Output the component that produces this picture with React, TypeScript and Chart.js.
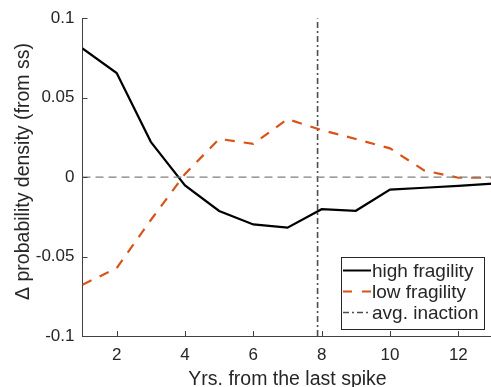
import { useEffect, useRef } from 'react';
import { Chart, registerables } from 'chart.js';

Chart.register(...registerables);

// ---- data ----
const xYears = [1, 2, 3, 4, 5, 6, 7, 8, 9, 10, 11, 12, 13];
const highFragility = [0.081, 0.0655, 0.0222, -0.0052, -0.0213, -0.0298, -0.0318, -0.0202, -0.0212, -0.0079, -0.0067, -0.0055, -0.0041];
const lowFragility = [-0.0677, -0.0573, -0.027, 0.002, 0.024, 0.0209, 0.0365, 0.0296, 0.024, 0.0181, 0.0042, -0.0004, -0.0004];
const avgInaction = 7.88;
const xTickValues = [2, 4, 6, 8, 10, 12];
const yTickValues = [-0.1, -0.05, 0, 0.05, 0.1];
const yTickLabels = ['-0.1', '-0.05', '0', '0.05', '0.1'];
const xLabel = 'Yrs. from the last spike';
const yLabel = 'Δ probability density (from ss)';
const legendLabels = ['high fragility', 'low fragility', 'avg. inaction'];

const FONT = '"Liberation Sans", Arial, Helvetica, sans-serif';
const TEXT = '#262626';
const AXIS = '#404040';
const ORANGE = '#D95319';
const VGRAY = '#4d4d4d';
const ZGRAY = '#808080';

const decorPlugin = {
  id: 'decor',
  afterDraw(chart: any) {
    const ctx = chart.ctx as CanvasRenderingContext2D;
    const xs = chart.scales.x;
    const ys = chart.scales.y;
    const area = chart.chartArea;
    ctx.save();
    // inward tick marks
    ctx.strokeStyle = AXIS;
    ctx.lineWidth = 1;
    ctx.beginPath();
    xTickValues.forEach((v) => {
      const px = Math.round(xs.getPixelForValue(v)) + 0.5;
      ctx.moveTo(px, area.bottom);
      ctx.lineTo(px, area.bottom - 5);
    });
    yTickValues.forEach((v) => {
      const py = Math.round(ys.getPixelForValue(v)) + 0.5;
      ctx.moveTo(area.left, py);
      ctx.lineTo(area.left + 5, py);
    });
    ctx.stroke();

    // axis titles
    ctx.fillStyle = TEXT;
    ctx.font = `19.5px ${FONT}`;
    ctx.textAlign = 'center';
    ctx.textBaseline = 'alphabetic';
    ctx.fillText(xLabel, (xs.getPixelForValue(xYears[0]) + xs.getPixelForValue(xYears[xYears.length - 1])) / 2, 385);
    ctx.save();
    ctx.translate(23.5, 171.5);
    ctx.rotate(-Math.PI / 2);
    ctx.textBaseline = 'middle';
    ctx.fillText(yLabel, 0, 0);
    ctx.restore();

    // legend
    const bx = 341.5, by = 257.5, bw = 143, bh = 72;
    ctx.fillStyle = '#ffffff';
    ctx.fillRect(bx, by, bw, bh);
    ctx.strokeStyle = TEXT;
    ctx.lineWidth = 1;
    ctx.strokeRect(bx, by, bw, bh);
    const rows = [270.5, 291.5, 312.5];
    const styles = [
      { color: '#000000', width: 2, dash: [] as number[] },
      { color: ORANGE, width: 2, dash: [9, 10] },
      { color: VGRAY, width: 1.3, dash: [6, 3, 2, 3] },
    ];
    ctx.font = `19px ${FONT}`;
    ctx.textAlign = 'left';
    ctx.textBaseline = 'middle';
    rows.forEach((ry, i) => {
      const s = styles[i];
      ctx.beginPath();
      ctx.strokeStyle = s.color;
      ctx.lineWidth = s.width;
      ctx.setLineDash(s.dash);
      ctx.moveTo(343, ry);
      ctx.lineTo(371, ry);
      ctx.stroke();
      ctx.setLineDash([]);
      ctx.fillStyle = TEXT;
      ctx.fillText(legendLabels[i], 372, ry + 1);
    });
    ctx.restore();
  },
};

export default function App() {
  const ref = useRef<HTMLCanvasElement | null>(null);
  useEffect(() => {
    if (!ref.current) return;
    const chart = new Chart(ref.current, {
      type: 'line',
      data: {
        datasets: [
          {
            label: 'zero',
            data: [{ x: xYears[0], y: 0 }, { x: xYears[xYears.length - 1], y: 0 }],
            borderColor: ZGRAY,
            borderWidth: 1.3,
            borderDash: [8, 5],
            pointRadius: 0,
          },
          {
            label: legendLabels[0],
            data: xYears.map((x, i) => ({ x, y: highFragility[i] })),
            borderColor: '#000000',
            borderWidth: 2.2,
            pointRadius: 0,
          },
          {
            label: legendLabels[1],
            data: xYears.map((x, i) => ({ x, y: lowFragility[i] })),
            borderColor: ORANGE,
            borderWidth: 2.2,
            borderDash: [10, 9],
            pointRadius: 0,
          },
          {
            label: legendLabels[2],
            data: [{ x: avgInaction, y: yTickValues[0] }, { x: avgInaction, y: yTickValues[yTickValues.length - 1] }],
            borderColor: VGRAY,
            borderWidth: 1.6,
            borderDash: [6, 3, 2, 3],
            pointRadius: 0,
          },
        ],
      },
      options: {
        animation: false,
        responsive: false,
        devicePixelRatio: 1,
        layout: { padding: { left: 0, top: 17, right: 1.5, bottom: 0 } },
        plugins: { legend: { display: false }, tooltip: { enabled: false } },
        scales: {
          x: {
            type: 'linear',
            min: xYears[0],
            max: xYears[xYears.length - 1],
            grid: { display: false, drawTicks: false },
            border: { display: true, color: AXIS, width: 1 },
            afterBuildTicks: (s: any) => { s.ticks = xTickValues.map((v) => ({ value: v })); },
            afterFit: (s: any) => { s.height = 51; },
            ticks: {
              padding: 9,
              autoSkip: false,
              maxRotation: 0,
              color: TEXT,
              font: { family: FONT, size: 17 },
              callback: (v: any) => String(v),
            },
          },
          y: {
            type: 'linear',
            min: yTickValues[0],
            max: yTickValues[yTickValues.length - 1],
            grid: { display: false, drawTicks: false },
            border: { display: true, color: AXIS, width: 1 },
            afterBuildTicks: (s: any) => { s.ticks = yTickValues.map((v) => ({ value: v })); },
            afterFit: (s: any) => { s.width = 82.5; },
            ticks: {
              padding: 8,
              autoSkip: false,
              color: TEXT,
              font: { family: FONT, size: 17 },
              callback: (_v: any, i: number) => yTickLabels[i],
            },
          },
        },
      },
      plugins: [decorPlugin],
    });
    return () => chart.destroy();
  }, []);
  return (
    <div style={{ position: 'fixed', left: 0, top: 0, width: 491, height: 387, overflow: 'hidden', background: '#fff' }}>
      <canvas ref={ref} width={494} height={387} style={{ display: 'block' }} />
    </div>
  );
}
